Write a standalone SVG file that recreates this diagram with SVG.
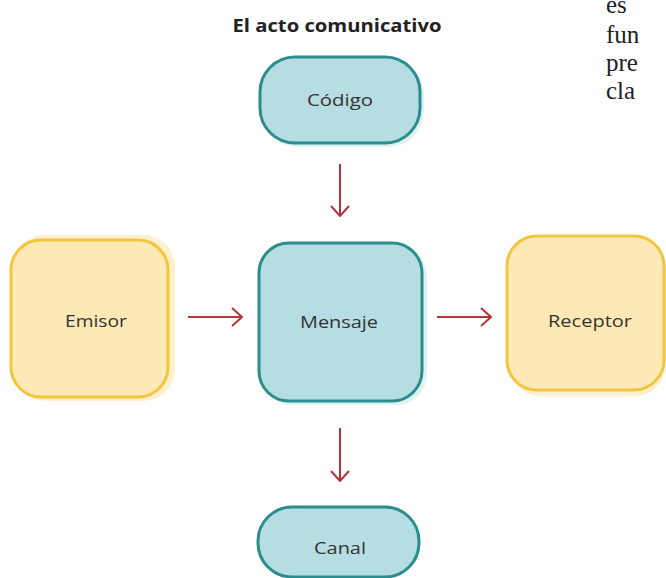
<svg xmlns="http://www.w3.org/2000/svg" width="666" height="578" viewBox="0 0 666 578">
<defs>
<style>
.teal{fill:#b6dde1;stroke:#2b8d8e;stroke-width:3}
.yel{fill:#fde9b6;stroke:#f2c53d;stroke-width:3}
.glowY{fill:#fdf0cf}
.glowT{fill:#e1f1f2}
.lbl{font-family:"Open Sans","Noto Sans",sans-serif;font-size:17px;fill:#333;text-anchor:middle}
.title{font-family:"Open Sans","Noto Sans",sans-serif;font-size:18px;font-weight:bold;fill:#222;text-anchor:middle}
.side{font-family:"Liberation Serif","DejaVu Serif",serif;font-size:25px;fill:#222}
.arr{stroke:#b3343a;stroke-width:2;fill:none}
</style>
<marker id="ah" viewBox="0 0 12 20" refX="11" refY="10" markerWidth="12" markerHeight="20" markerUnits="userSpaceOnUse" orient="auto">
<path d="M1,1 L11,10 L1,19" fill="none" stroke="#b3343a" stroke-width="2"/>
</marker>
</defs>
<rect width="666" height="578" fill="#ffffff"/>
<text class="title" x="337" y="32" textLength="209" lengthAdjust="spacingAndGlyphs">El acto comunicativo</text>
<g id="side-text">
<text class="side" x="606" y="13">es</text>
<text class="side" x="606" y="43">fun</text>
<text class="side" x="606" y="71">pre</text>
<text class="side" x="606" y="99">cla</text>
</g>
<g id="codigo">
<rect class="glowT" x="262" y="59" width="162" height="88" rx="36"/>
<rect class="teal" x="260" y="57" width="160" height="86" rx="35"/>
<text class="lbl" x="340" y="106" textLength="66" lengthAdjust="spacingAndGlyphs">Código</text>
</g>
<g id="emisor">
<rect class="glowY" x="13" y="235" width="162" height="166" rx="32"/>
<rect class="yel" x="11" y="240" width="157" height="157" rx="30"/>
<text class="lbl" x="96" y="327" textLength="62" lengthAdjust="spacingAndGlyphs">Emisor</text>
</g>
<g id="mensaje">
<rect class="glowT" x="261" y="245" width="166" height="160" rx="31"/>
<rect class="teal" x="259" y="243" width="163" height="158" rx="30"/>
<text class="lbl" x="339" y="328" textLength="78" lengthAdjust="spacingAndGlyphs">Mensaje</text>
</g>
<g id="receptor">
<rect class="glowY" x="509" y="238" width="157" height="158" rx="31"/>
<rect class="yel" x="507" y="236" width="157" height="154" rx="30"/>
<text class="lbl" x="590" y="327" textLength="84" lengthAdjust="spacingAndGlyphs">Receptor</text>
</g>
<g id="canal">
<rect class="teal" x="258" y="507" width="161" height="70" rx="34"/>
<text class="lbl" x="340" y="554" textLength="52" lengthAdjust="spacingAndGlyphs">Canal</text>
</g>
<g id="connectors">
<line class="arr" x1="340" y1="164" x2="340" y2="216" marker-end="url(#ah)"/>
<line class="arr" x1="188" y1="317" x2="242" y2="317" marker-end="url(#ah)"/>
<line class="arr" x1="437" y1="317" x2="491" y2="317" marker-end="url(#ah)"/>
<line class="arr" x1="340" y1="428" x2="340" y2="481" marker-end="url(#ah)"/>
</g>
</svg>
